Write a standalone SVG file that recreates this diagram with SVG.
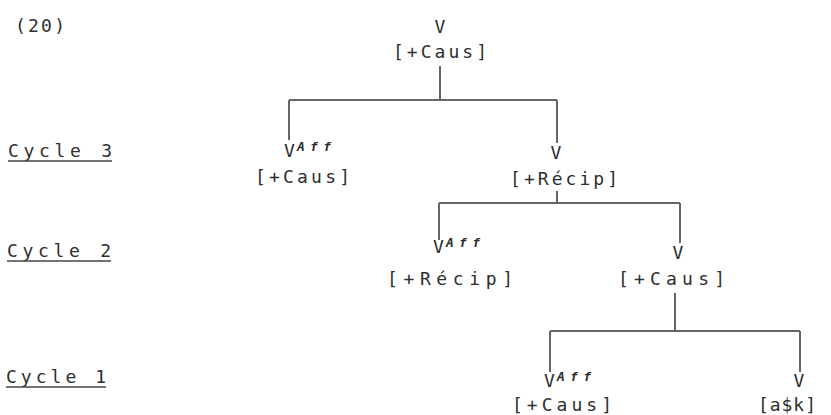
<svg xmlns="http://www.w3.org/2000/svg" width="831" height="415" viewBox="0 0 831 415">
<style>
text{font-family:"DejaVu Sans Mono","Liberation Mono",monospace;fill:#2e2e2e;font-size:18px}
.sup{font-size:13px;font-style:italic;font-weight:bold}
.ln{stroke:#666;stroke-width:2;fill:none}
.ul{stroke:#444;stroke-width:1.5}
</style>
<rect width="831" height="415" fill="#fff"/>
<g id="label-20"><text x="15" y="32" textLength="50" lengthAdjust="spacing">(20)</text></g>
<g id="cycle3"><text x="8" y="157" textLength="104" lengthAdjust="spacing">Cycle 3</text><line class="ul" x1="8" y1="161" x2="112" y2="161"/></g>
<g id="cycle2"><text x="7" y="257" textLength="104" lengthAdjust="spacing">Cycle 2</text><line class="ul" x1="7" y1="261" x2="111" y2="261"/></g>
<g id="cycle1"><text x="6" y="383" textLength="100" lengthAdjust="spacing">Cycle 1</text><line class="ul" x1="6" y1="387" x2="106" y2="387"/></g>
<g id="connectors">
<path class="ln" d="M440,66V100M289,100H557M289,100V140M557,100V143"/>
<path class="ln" d="M557,191V203M439,203H680M439,203V240M680,203V243"/>
<path class="ln" d="M675,293V331M550,331H800M550,331V372M800,331V372"/>
</g>
<g id="n-top"><text x="440" y="33" text-anchor="middle">V</text><text x="393" y="58" textLength="94" lengthAdjust="spacing">[+Caus]</text></g>
<g id="n-c3-aff"><text x="284" y="157">V</text><text class="sup" x="297" y="151" textLength="34" lengthAdjust="spacing">Aff</text><text x="255" y="183" textLength="95" lengthAdjust="spacing">[+Caus]</text></g>
<g id="n-c3-v"><text x="556" y="159" text-anchor="middle">V</text><text x="510" y="185" textLength="108" lengthAdjust="spacing">[+Récip]</text></g>
<g id="n-c2-aff"><text x="433" y="253">V</text><text class="sup" x="446" y="247" textLength="34" lengthAdjust="spacing">Aff</text><text x="387" y="285" textLength="126" lengthAdjust="spacing">[+Récip]</text></g>
<g id="n-c2-v"><text x="678" y="259" text-anchor="middle">V</text><text x="618" y="285" textLength="107" lengthAdjust="spacing">[+Caus]</text></g>
<g id="n-c1-aff"><text x="544" y="387">V</text><text class="sup" x="557" y="381" textLength="34" lengthAdjust="spacing">Aff</text><text x="512" y="411" textLength="100" lengthAdjust="spacing">[+Caus]</text></g>
<g id="n-c1-v"><text x="799" y="387" text-anchor="middle">V</text><text x="758" y="411" textLength="58" lengthAdjust="spacing">[a$k]</text></g>
</svg>
